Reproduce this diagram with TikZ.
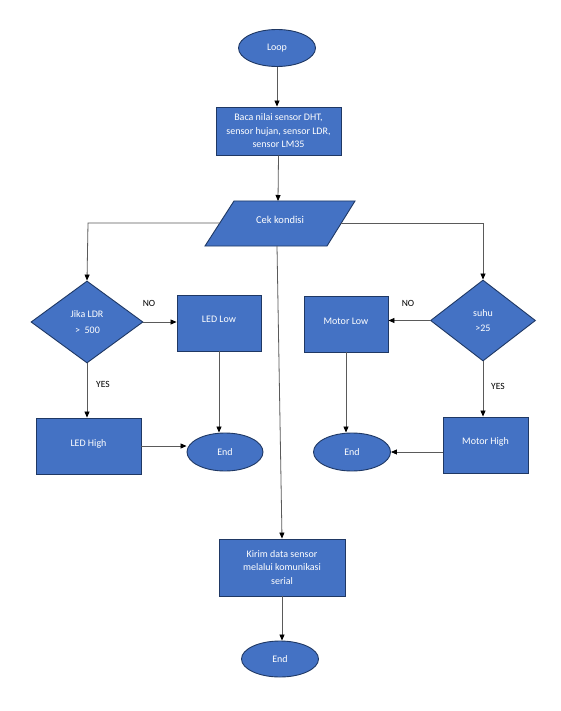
\documentclass[tikz,border=0pt]{standalone}
\usepackage{fontspec}
\setmainfont{Carlito}
\usetikzlibrary{shapes.geometric,arrows.meta}
\definecolor{offblue}{HTML}{4472C4}
\definecolor{offedge}{HTML}{1F3864}
\definecolor{conn}{HTML}{5A5A5A}
\begin{document}
\begin{tikzpicture}[x=1pt,y=-1pt,
  shapebase/.style={fill=offblue,draw=offedge,line width=0.9pt,text=white,align=center,inner sep=0pt,font=\fontsize{10}{13.5}\selectfont},
  termnode/.style={shapebase,ellipse,minimum width=77pt,minimum height=37pt},
  procbox/.style={shapebase,rectangle,minimum width=#1,minimum height=56pt},
  decnode/.style={shapebase,diamond,minimum width=110pt,minimum height=82pt},
  lbl/.style={font=\fontsize{9.5}{11}\selectfont,text=black,inner sep=0pt},
  conn/.style={draw=conn,line width=0.8pt},
  arr/.style={conn,-{Triangle[length=6pt,width=5pt,color=black]}}
]
\useasboundingbox (0,0) rectangle (560,711);
\fill[white] (0,0) rectangle (560,711);

% terminals
\node[termnode] (loop) at (277,48) {Loop};
\node[termnode,minimum width=76pt,minimum height=38pt] (endL) at (225,452) {End};
\node[termnode,minimum height=38pt] (endR) at (352,452) {End};
\node[termnode,minimum height=36pt] (endB) at (280,659) {End};

% process boxes
\node[procbox=125pt,minimum height=48pt] (baca) at (278.5,131) {Baca nilai sensor DHT,\\sensor hujan, sensor LDR,\\sensor LM35};
\node[procbox=84pt] (ledlow) at (219,323) {\raisebox{7pt}{LED Low}};
\node[procbox=105pt] (ledhigh) at (88.5,446) {\raisebox{6pt}{LED High}};
\node[procbox=84pt] (motlow) at (346,324) {\raisebox{6pt}{Motor Low}};
\node[procbox=85pt] (mothigh) at (485.5,445) {\raisebox{7pt}{Motor High}};
\node[procbox=126pt,minimum height=57pt] (kirim) at (282,567.5) {Kirim data sensor\\melalui komunikasi\\serial};

% decisions
\node[decnode,minimum width=112pt] (ldr) at (87,322) {Jika LDR\\[2pt]\hspace*{1pt}>\ \ 500};
\node[decnode,minimum width=105pt,minimum height=81pt] (suhu) at (483,320.5) {suhu\\[2pt]>25};

% input/output parallelogram
\coordinate (p1) at (234,201);
\coordinate (p2) at (355,201);
\coordinate (p3) at (327,246);
\coordinate (p4) at (205,246);
\draw[fill=offblue,draw=offedge,line width=0.9pt] (p1) -- (p2) -- (p3) -- (p4) -- cycle;
\node[text=white,inner sep=0pt,font=\fontsize{10.5}{12}\selectfont] (cek) at (280,220) {Cek kondisi};
\coordinate (cekT) at (278,201);
\coordinate (cekB) at (277,246);
\coordinate (cekL) at (220,223);
\coordinate (cekR) at (341,223);
\coordinate (leftTurn) at (88,223);
\coordinate (rightTurn) at (483,223);

% labels
\node[lbl] (no1) at (149,303) {NO};
\node[lbl] (yes1) at (103,384) {YES};
\node[lbl] (no2) at (408,303) {NO};
\node[lbl] (yes2) at (498,386) {YES};

% connectors
\draw[arr] (loop.south) -- (loop.south |- baca.north);
\draw[arr] (baca.south) -- (cekT);
\draw[arr] (cekL) -- (leftTurn) -- (ldr.north);
\draw[arr] (cekR) -- (rightTurn) -- (suhu.north);
\draw[arr] (cekB) -- (kirim.north);
\draw[arr] (ldr.east) -- (ldr.east -| ledlow.west);
\draw[arr] (ldr.south) -- (ldr.south |- ledhigh.north);
\draw[arr] (ledlow.south) -- (ledlow.south |- endL.north);
\draw[arr] (ledhigh.east) -- (ledhigh.east -| endL.west);
\draw[arr] (suhu.west) -- (suhu.west -| motlow.east);
\draw[arr] (suhu.south) -- (suhu.south |- mothigh.north);
\draw[arr] (motlow.south) -- (motlow.south |- endR.north);
\draw[arr] (mothigh.west |- endR.east) -- (endR.east);
\draw[arr] (kirim.south) -- (kirim.south |- endB.north);
\end{tikzpicture}
\end{document}
